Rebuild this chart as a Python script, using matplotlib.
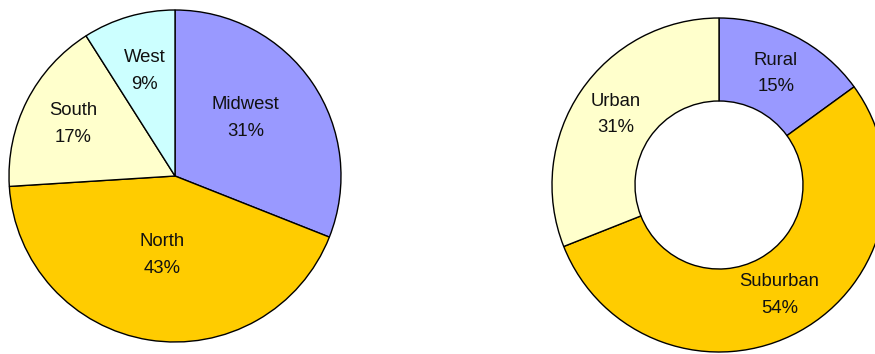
import numpy as np
import matplotlib
matplotlib.use("Agg")
import matplotlib.pyplot as plt

# regional split (solid pie)
regions = ["Midwest", "North", "South", "West"]
region_pct = [31, 43, 17, 9]
region_colors = ["#9999FF", "#FFCC00", "#FFFFCC", "#CCFFFF"]

# area split (donut)
areas = ["Rural", "Suburban", "Urban"]
area_pct = [15, 54, 31]
area_colors = ["#9999FF", "#FFCC00", "#FFFFCC"]

plt.rcParams['font.family'] = ['Liberation Sans', 'DejaVu Sans']

W, H = 875, 354
fig = plt.figure(figsize=(W / 100, H / 100), dpi=100)
ax = fig.add_axes([0, 0, 1, 1])

wedge_style = dict(edgecolor="black", linewidth=1.0)
txt = dict(ha="center", va="center", fontsize=13.3, color="#111111", linespacing=1.75)

# left pie, pixel coordinates with y measured from the bottom
c1, r1 = (175, 178), 166
w1, _ = ax.pie(region_pct, colors=region_colors, startangle=90, counterclock=False,
               center=c1, radius=r1, wedgeprops=wedge_style)
label_r1 = [0.55, 0.48, 0.69, 0.66]
for w, name, pct, fr in zip(w1, regions, region_pct, label_r1):
    mid = np.deg2rad((w.theta1 + w.theta2) / 2 + 5 * (name == "Midwest"))
    ax.text(c1[0] + fr * r1 * np.cos(mid), c1[1] + fr * r1 * np.sin(mid),
            f"{name}\n{pct}%", **txt)

# right donut
c2, r2 = (719, 169), 167
hole = 84
w2, _ = ax.pie(area_pct, colors=area_colors, startangle=90, counterclock=False,
               center=c2, radius=r2,
               wedgeprops=dict(width=r2 - hole, **wedge_style))
label_r2 = 0.75
for w, name, pct in zip(w2, areas, area_pct):
    mid = np.deg2rad((w.theta1 + w.theta2) / 2)
    ax.text(c2[0] + label_r2 * r2 * np.cos(mid), c2[1] + label_r2 * r2 * np.sin(mid),
            f"{name}\n{pct}%", **txt)

ax.set_xlim(0, W)
ax.set_ylim(0, H)
ax.set_aspect("equal")
ax.axis("off")

fig.savefig("out.png", dpi=100, facecolor="white")
